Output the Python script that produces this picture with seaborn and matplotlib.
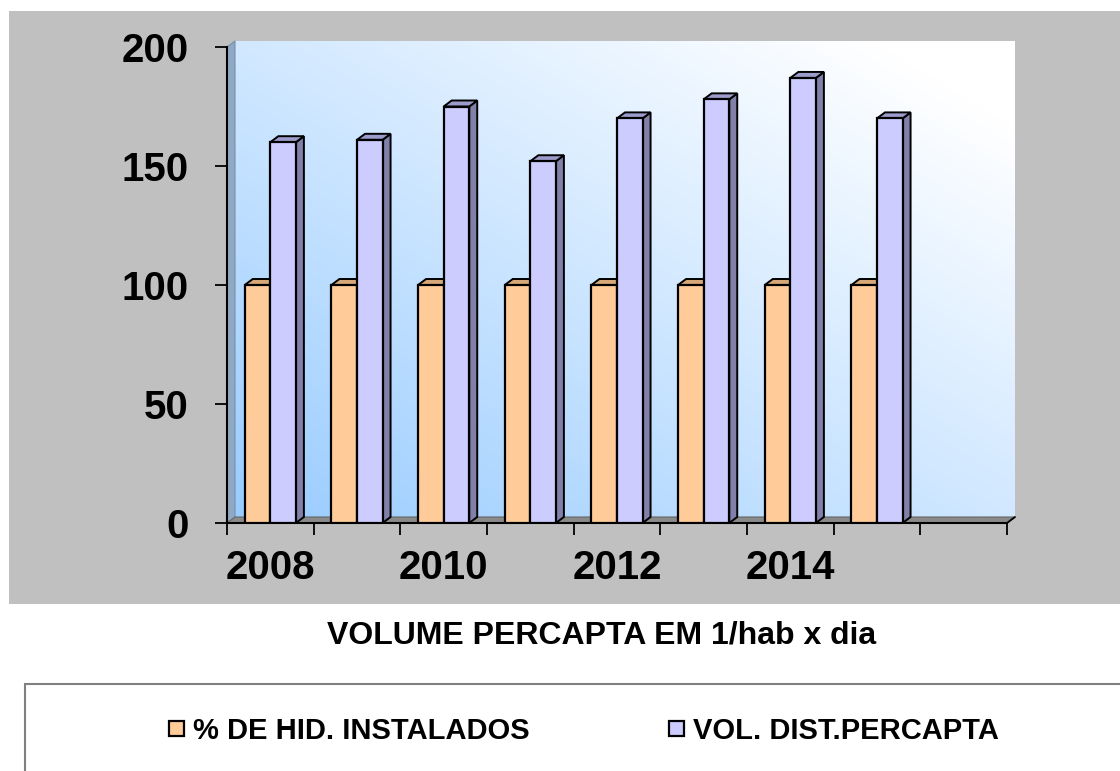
import numpy as np
import pandas as pd
import matplotlib
matplotlib.use("Agg")
import matplotlib.pyplot as plt
from matplotlib.patches import Rectangle, Polygon
from matplotlib.lines import Line2D
import seaborn as sns

# data
categories = ["2008", "2009", "2010", "2011", "2012", "2013", "2014", "2015", ""]
years = ["2008", "2009", "2010", "2011", "2012", "2013", "2014", "2015"]
hid_instalados = [100, 100, 100, 100, 100, 100, 100, 100]
vol_percapta = [160, 161, 175, 152, 170, 178, 187, 170]
series_names = ["% DE HID. INSTALADOS", "VOL. DIST.PERCAPTA"]
tick_labels = [c if i % 2 == 0 else "" for i, c in enumerate(categories)]

df = pd.DataFrame({
    "ano": years * 2,
    "serie": [series_names[0]] * len(years) + [series_names[1]] * len(years),
    "valor": hid_instalados + vol_percapta,
})

front = {series_names[0]: "#FFCC99", series_names[1]: "#CCCCFF"}
side = {series_names[0]: "#B08A66", series_names[1]: "#8080A8"}
top = {series_names[0]: "#D6A878", series_names[1]: "#9C9CCC"}

sns.set_style("white")
plt.rcParams["font.family"] = ["Liberation Sans", "DejaVu Sans"]
plt.rcParams["font.weight"] = "bold"
plt.rcParams["text.color"] = "black"
plt.rcParams["xtick.color"] = "black"
plt.rcParams["ytick.color"] = "black"
plt.rcParams["xtick.labelcolor"] = "black"
plt.rcParams["ytick.labelcolor"] = "black"

W, H = 1120, 771
L, R, B, T = 227, 1007, 523, 47   # front plot frame in pixels
dx, dy = 8, 6                     # 3d depth in pixels

fig = plt.figure(figsize=(W / 100, H / 100), dpi=100)
fig.patch.set_facecolor("white")

def px(x, y):
    return (x / W, 1 - y / H)

# grey chart area
fig.patches.append(Rectangle((9 / W, 1 - 604 / H), 1, (604 - 11) / H,
                             transform=fig.transFigure, facecolor="#C0C0C0",
                             edgecolor="none", zorder=0))

# back wall with diagonal gradient
ax_bg = fig.add_axes([(L + dx) / W, (H - B + dy) / H, (R - L) / W, (B - T) / H], zorder=1)
u = np.linspace(0, 1, 200)[None, :]
v = np.linspace(0, 1, 200)[:, None]
t = np.clip(0.55 * (u + v), 0, 1)
c0 = np.array([153, 204, 255]) / 255
c1 = np.array([255, 255, 255]) / 255
grad = c0[None, None, :] * (1 - t[..., None]) + c1[None, None, :] * t[..., None]
ax_bg.imshow(grad, aspect="auto", extent=(0, 1, 0, 1), origin="lower")
ax_bg.axis("off")

# side wall and floor
fig.patches.append(Polygon([px(L, B), px(L, T), px(L + dx, T - dy), px(L + dx, B - dy)],
                           closed=True, transform=fig.transFigure,
                           facecolor="#8FA9C4", edgecolor="#7890A8", lw=0.8, zorder=1.5))
fig.patches.append(Polygon([px(L, B), px(R, B), px(R + dx, B - dy), px(L + dx, B - dy)],
                           closed=True, transform=fig.transFigure,
                           facecolor="#8A8A8A", edgecolor="#666666", lw=0.8, zorder=1.5))

ax = fig.add_axes([L / W, 1 - B / H, (R - L) / W, (B - T) / H], zorder=2)
ax.patch.set_alpha(0)

sns.barplot(data=df, x="ano", y="valor", hue="serie", order=categories,
            hue_order=series_names, palette=front, width=0.59,
            edgecolor="black", linewidth=1.6, saturation=1, ax=ax, zorder=3)
handles, labels = ax.get_legend_handles_labels()
ax.legend_.remove()

ax.set_xlim(-0.5, len(categories) - 0.5)
ax.set_ylim(0, 200)

# 3d faces on each bar
ddx = dx / ((R - L) / len(categories))
ddy = dy / ((B - T) / 200)
bars = [p for p in ax.patches if isinstance(p, Rectangle)]
for bar in bars:
    fc = bar.get_facecolor()
    name = series_names[0] if abs(fc[2] - 0.6) < 0.05 else series_names[1]
    x0, w, h = bar.get_x(), bar.get_width(), bar.get_height()
    x1 = x0 + w
    ax.add_patch(Polygon([(x1, 0), (x1 + ddx, ddy), (x1 + ddx, h + ddy), (x1, h)],
                         closed=True, facecolor=side[name], edgecolor="black",
                         lw=1.4, zorder=2.9))
    ax.add_patch(Polygon([(x0, h), (x0 + ddx, h + ddy), (x1 + ddx, h + ddy), (x1, h)],
                         closed=True, facecolor=top[name], edgecolor="black",
                         lw=1.4, zorder=2.9))

# axes styling
for s in ["top", "right"]:
    ax.spines[s].set_visible(False)
for s in ["left", "bottom"]:
    ax.spines[s].set_color("black")
    ax.spines[s].set_linewidth(1.5)
fig.lines.append(Line2D([R / W, (R + dx) / W], [1 - B / H, 1 - (B - dy) / H],
                        transform=fig.transFigure, color="black", lw=1.3, zorder=5))

ax.set_yticks([0, 50, 100, 150, 200])
ax.tick_params(axis="y", direction="out", length=8.6, width=1.3, pad=19,
               labelsize=29, colors="black", left=True)
ax.set_xticks(range(len(categories)))
ax.set_xticklabels(tick_labels)
ax.set_xticks(np.arange(-0.5, len(categories), 1), minor=True)
ax.tick_params(axis="x", which="major", length=0, pad=19, labelsize=29,
               labelcolor="black")
ax.tick_params(axis="x", which="minor", direction="out", length=8.6, width=1.3,
               bottom=True, color="black")
for lab in ax.get_xticklabels() + ax.get_yticklabels():
    lab.set_fontweight("bold")
    lab.set_color("black")
ax.set_xlabel("")
ax.set_ylabel("")

fig.text(602 / W, 1 - 636 / H, "VOLUME PERCAPTA EM 1/hab x dia",
         ha="center", va="center", fontsize=23, fontweight="bold", color="black")

# legend box
fig.patches.append(Rectangle((25 / W, -0.1), 1.2, (771 - 684) / H + 0.1,
                             transform=fig.transFigure, facecolor="white",
                             edgecolor="#808080", lw=1.5, zorder=0))
leg = fig.legend(handles, labels, loc="center", bbox_to_anchor=(584 / W, 1 - 731 / H),
                 ncol=2, frameon=False, handlelength=0.5,
                 handleheight=0.45, handletextpad=0.3, columnspacing=4.8,
                 prop={"weight": "bold", "size": 21})
for hnd in leg.legend_handles:
    hnd.set_edgecolor("black")
    hnd.set_linewidth(1.6)
for txt in leg.get_texts():
    txt.set_color("black")

fig.savefig("out.png", dpi=100)
